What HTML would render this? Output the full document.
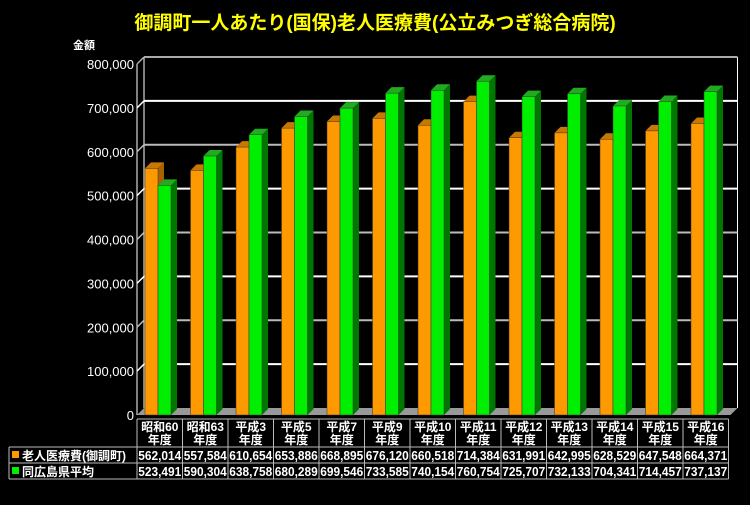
<!DOCTYPE html>
<html><head><meta charset="utf-8"><style>
body{margin:0;background:#000;width:750px;height:500px;overflow:hidden;font-family:"Liberation Sans","Noto Sans CJK JP",sans-serif}
</style></head><body>
<svg id="c" width="750" height="500" xmlns="http://www.w3.org/2000/svg">
<text x="375" y="29" text-anchor="middle" fill="#ffff00" font-size="19" font-weight="bold" font-family="Liberation Sans,Noto Sans CJK JP,sans-serif">御調町一人あたり(国保)老人医療費(公立みつぎ総合病院)</text>
<text x="73" y="49" fill="#fff" font-size="11" font-weight="bold" font-family="Liberation Sans,Noto Sans CJK JP,sans-serif">金額</text>
<g id="g"></g>
</svg>
<script>
const categories=[["昭和60","年度"],["昭和63","年度"],["平成3","年度"],["平成5","年度"],["平成7","年度"],["平成9","年度"],["平成10","年度"],["平成11","年度"],["平成12","年度"],["平成13","年度"],["平成14","年度"],["平成15","年度"],["平成16","年度"]];
const seriesNames=["老人医療費(御調町)","同広島県平均"];
const townValues=[562014,557584,610654,653886,668895,676120,660518,714384,631991,642995,628529,647548,664371];
const prefValues=[523491,590304,638758,680289,699546,733585,740154,760754,725707,732133,704341,714457,737137];
const yTicks=[0,100000,200000,300000,400000,500000,600000,700000,800000];
const yMax=800000;
const NS="http://www.w3.org/2000/svg";
const g=document.getElementById('g');
const X0=137,CW=45.5,Y0=415,YT=64,D=7;
const y=v=>Y0-v/yMax*(Y0-YT);
function el(t,a,p){const e=document.createElementNS(NS,t);for(const k in a)e.setAttribute(k,a[k]);(p||g).appendChild(e);return e;}
const right=X0+CW*categories.length;
el('polygon',{points:`${X0},${Y0} ${X0+D},${Y0-D} ${right+D+2},${Y0-D} ${right+2},${Y0}`,fill:'#999'});
el('line',{x1:X0,y1:Y0,x2:X0,y2:YT,stroke:'#fff'});
el('line',{x1:X0+D,y1:Y0-D,x2:X0+D,y2:YT-D,stroke:'#fff'});
el('line',{x1:right+D+2,y1:Y0-D,x2:right+D+2,y2:YT-D,stroke:'#fff'});
yTicks.forEach(t=>{
  const yy=y(t);
  if(t>0){
    const c=t===yMax?'#aaa':(t%200000?'#fff':'#bbb');
    const gl=el('g',{});
    
    
    el('line',{x1:X0,y1:yy,x2:X0+D,y2:yy-D,stroke:c,'stroke-width':1.5},gl);
    el('line',{x1:X0+D,y1:yy-D,x2:right+D+2,y2:yy-D,stroke:c,'stroke-width':2},gl);
  }
  const tx=el('text',{x:X0-3,y:yy+5,'text-anchor':'end',fill:'#fff','font-size':13});
  tx.textContent=t.toLocaleString('en-US');
  
  
});
function bar(x,v,front,top,side,name){
  const w=13,t=y(v);
  const b=el('g',{});
  
  
  el('polygon',{points:`${x+w},${t} ${x+w+D-1},${t-D+1} ${x+w+D-1},${Y0-D+1} ${x+w},${Y0}`,fill:side},b);
  el('polygon',{points:`${x},${t} ${x+D-1},${t-D+1} ${x+w+D-1},${t-D+1} ${x+w},${t}`,fill:top},b);
  el('rect',{x:x,y:t,width:w,height:Y0-t,fill:front,stroke:'#333','stroke-width':0.5},b);
}
categories.forEach((c,i)=>{
  const cx=X0+CW*i;
  bar(cx+8,townValues[i],'#ff9900','#c87800','#a86000','bar-town');
  bar(cx+21,prefValues[i],'#00ee00','#22aa22','#007700','bar-pref');
});
const TX=9,TY=419,H1=28,RH=16;
const tb=el('g',{});


const sc='#bbb';
el('line',{x1:X0,y1:TY,x2:right,y2:TY,stroke:sc},tb);
el('line',{x1:TX,y1:TY+H1,x2:right,y2:TY+H1,stroke:sc},tb);
el('line',{x1:TX,y1:TY+H1+RH,x2:right,y2:TY+H1+RH,stroke:sc},tb);
el('line',{x1:TX,y1:TY+H1+2*RH,x2:right,y2:TY+H1+2*RH,stroke:sc},tb);
el('line',{x1:TX,y1:TY+H1,x2:TX,y2:TY+H1+2*RH,stroke:sc},tb);
for(let i=0;i<=categories.length;i++){const xx=X0+CW*i;el('line',{x1:xx,y1:TY,x2:xx,y2:TY+H1+2*RH,stroke:sc},tb);}
categories.forEach((c,i)=>{
  const cx=X0+CW*i+CW/2;
  c.forEach((s,j)=>{const t=el('text',{x:cx,y:TY+12+j*13,'text-anchor':'middle',fill:'#fff','font-size':12,'font-weight':'bold'},tb);t.textContent=s;
  
  });
  [townValues,prefValues].forEach((arr,r)=>{const t=el('text',{x:cx,y:TY+H1+13+r*RH,'text-anchor':'middle',fill:'#fff','font-size':12.5,'font-weight':'bold',textLength:43,lengthAdjust:'spacingAndGlyphs'},tb);t.textContent=arr[i].toLocaleString('en-US');
  
  });
});
const cols=['#ff9900','#00ee00'];
seriesNames.forEach((n,r)=>{
  const lg=el('g',{},tb);
  
  
  el('rect',{x:TX+3,y:TY+H1+4+r*RH,width:7,height:7,fill:cols[r]},lg);
  const t=el('text',{x:TX+13,y:TY+H1+13+r*RH,fill:'#fff','font-size':12,'font-weight':'bold'},lg);t.textContent=n;
});
</script>
</body></html>
